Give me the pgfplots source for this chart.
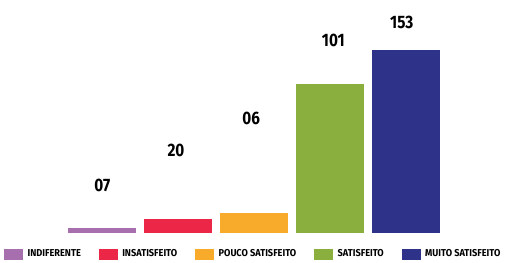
\documentclass[border=0pt]{standalone}
\usepackage{pgfplots}
\pgfplotsset{compat=1.18}
\usepackage{fontspec}
\setmainfont{Fira Sans}
\usepackage{graphicx}
\definecolor{cpurple}{HTML}{A86FAF}
\definecolor{cred}{HTML}{EC2646}
\definecolor{corange}{HTML}{F8AB2A}
\definecolor{cgreen}{HTML}{8BAF3F}
\definecolor{cnavy}{HTML}{2E3389}
\newcommand{\legtxt}[1]{\scalebox{0.92}[1]{\fontsize{10}{10}\selectfont\bfseries #1}}
\newcommand{\numtxt}[1]{\scalebox{0.85}[1]{\fontsize{18}{18}\selectfont\bfseries #1}}
\begin{document}
\begin{tikzpicture}
\useasboundingbox (0,-29pt) rectangle (513pt,233pt);
\begin{axis}[
  at={(0,0)}, anchor=south west,
  scale only axis, width=513pt, height=233pt,
  hide axis,
  xmin=-1.3355, xmax=5.4145,
  ymin=0, ymax=193.7,
  ybar, bar width=0.908, bar shift=0pt,
  area legend,
  legend columns=5,
  legend style={draw=none, fill=none, at={(0.006,-0.09)}, anchor=west,
    inner sep=0pt, /tikz/every even column/.append style={column sep=15pt},
    /tikz/every odd column/.append style={column sep=2pt}},
  legend image code/.code={\fill[#1] (0pt,-6pt) rectangle (20pt,6pt);},
  legend cell align=left,
]
\addplot[fill=cpurple, draw=white, line width=0.4pt] coordinates {(0,5.0)};
\addlegendentry{\legtxt{INDIFERENTE}}
\addplot[fill=cred, draw=white, line width=0.4pt] coordinates {(1,12.5)};
\addlegendentry{\legtxt{INSATISFEITO}}
\addplot[fill=corange, draw=white, line width=0.4pt] coordinates {(2,17.5)};
\addlegendentry{\legtxt{POUCO SATISFEITO}}
\addplot[fill=cgreen, draw=white, line width=0.4pt] coordinates {(3,124.7)};
\addlegendentry{\legtxt{SATISFEITO}}
\addplot[fill=cnavy, draw=white, line width=0.4pt] coordinates {(4,153)};
\addlegendentry{\legtxt{MUITO SATISFEITO}}
\begin{scope}[every node/.style={text=black}]
\node at (axis cs:0.01,39.4) {\numtxt{07}};
\node at (axis cs:0.98,68.4) {\numtxt{20}};
\node at (axis cs:1.97,95) {\numtxt{06}};
\node at (axis cs:3.05,160) {\numtxt{101}};
\node at (axis cs:3.95,175.4) {\numtxt{153}};
\end{scope}
\end{axis}
\end{tikzpicture}
\end{document}
